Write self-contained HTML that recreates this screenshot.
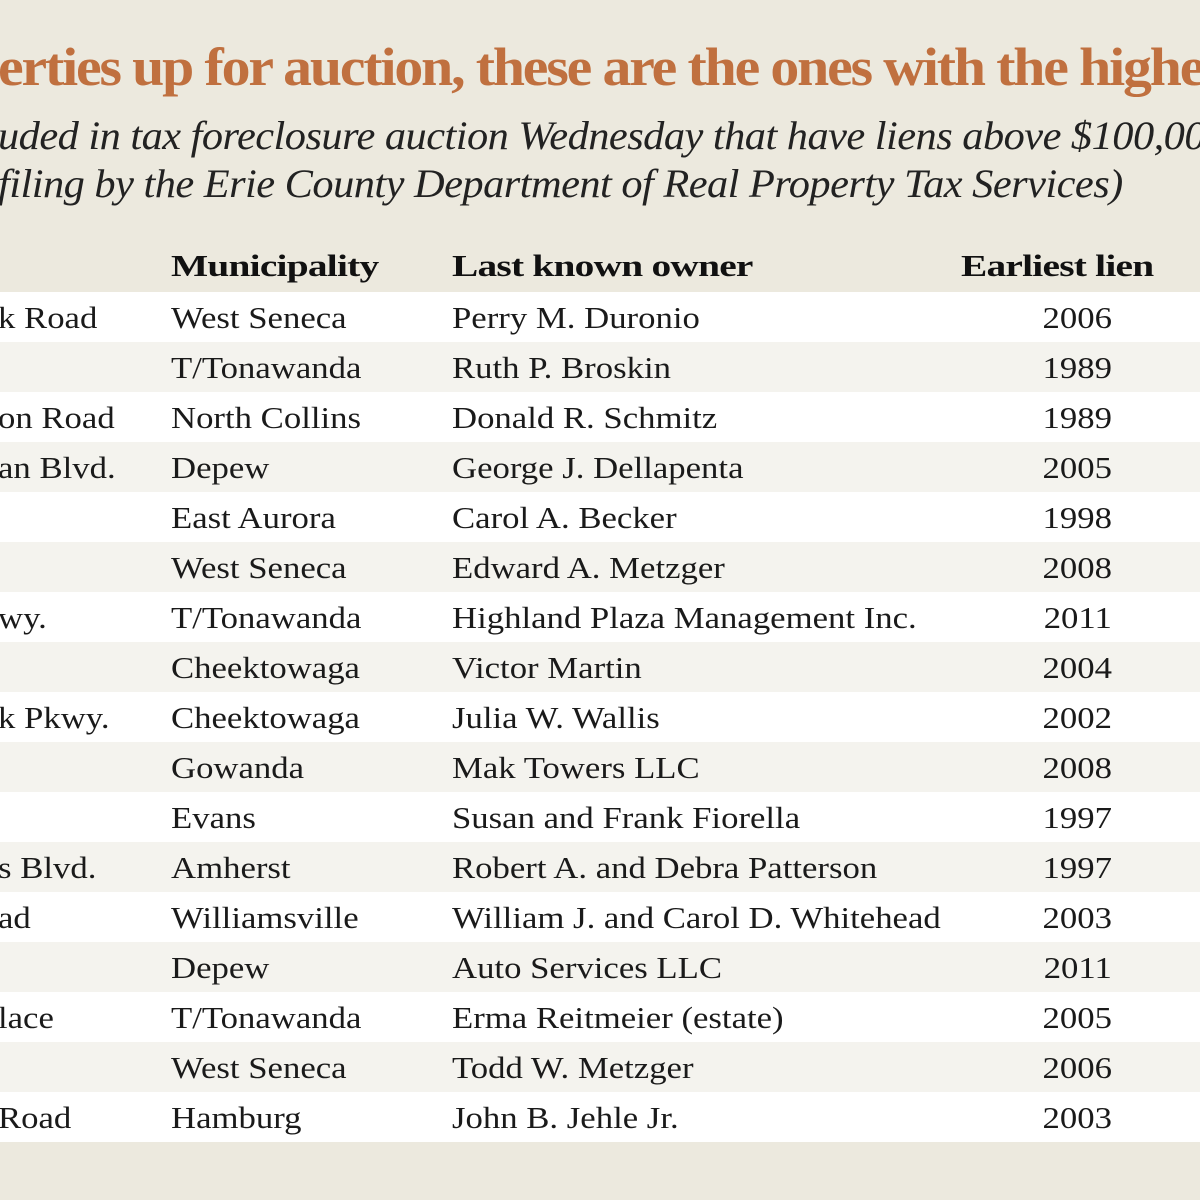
<!DOCTYPE html>
<html><head><meta charset="utf-8"><style>
body{margin:0;width:1200px;height:1200px;overflow:hidden;background:#ECE9DE;font-family:"Liberation Serif",serif;position:relative}
.t{position:absolute;white-space:nowrap}
#title{left:-2px;top:36px;font-size:54px;font-weight:bold;color:#C0703F;letter-spacing:-2px;transform-origin:0 0;transform:scaleX(1.07)}
.sub{font-style:italic;font-size:40px;color:#222;letter-spacing:-0.5px;transform-origin:0 0;transform:scaleX(1.06)}
.row{position:absolute;left:0;width:1200px;height:50px}
.c{position:absolute;top:8px;font-size:31px;color:#1a1a1a;white-space:nowrap;transform-origin:0 0;transform:scaleX(1.12)}
.r{transform-origin:100% 0}
.h{font-weight:bold;font-size:31px;letter-spacing:-0.6px;color:#111;top:248px;transform:scaleX(1.27)}
</style></head><body>
<div id="title" class="t">erties up for auction, these are the ones with the highest</div>
<div class="t sub" style="left:-2px;top:112px">uded in tax foreclosure auction Wednesday that have liens above $100,000</div>
<div class="t sub" style="left:-2px;top:160px">filing by the Erie County Department of Real Property Tax Services)</div>
<div class="t c h" style="left:171px">Municipality</div>
<div class="t c h" style="left:452px">Last known owner</div>
<div class="t c h" style="left:961px">Earliest lien</div>
<div id="rows"></div>
<script>
var d=[["k Road","West Seneca","Perry M. Duronio","2006"],["","T/Tonawanda","Ruth P. Broskin","1989"],["on Road","North Collins","Donald R. Schmitz","1989"],["an Blvd.","Depew","George J. Dellapenta","2005"],["","East Aurora","Carol A. Becker","1998"],["","West Seneca","Edward A. Metzger","2008"],["wy.","T/Tonawanda","Highland Plaza Management Inc.","2011"],["","Cheektowaga","Victor Martin","2004"],["k Pkwy.","Cheektowaga","Julia W. Wallis","2002"],["","Gowanda","Mak Towers LLC","2008"],["","Evans","Susan and Frank Fiorella","1997"],["s Blvd.","Amherst","Robert A. and Debra Patterson","1997"],["ad","Williamsville","William J. and Carol D. Whitehead","2003"],["","Depew","Auto Services LLC","2011"],["lace","T/Tonawanda","Erma Reitmeier (estate)","2005"],["","West Seneca","Todd W. Metzger","2006"],[" Road","Hamburg","John B. Jehle Jr.","2003"]];
var h="";d.forEach(function(r,i){h+='<div class="row" style="top:'+(292+i*50)+'px;background:'+(i%2?'#F4F3EE':'#FFFFFF')+'"><div class="c" style="left:-2px">'+r[0]+'</div><div class="c" style="left:171px">'+r[1]+'</div><div class="c" style="left:452px">'+r[2]+'</div><div class="c r" style="right:88px">'+r[3]+'</div></div>';});
document.getElementById("rows").innerHTML=h;
</script>
</body></html>
